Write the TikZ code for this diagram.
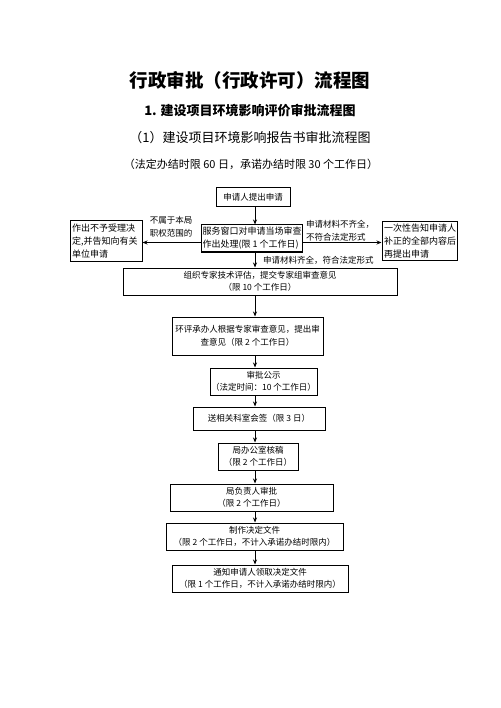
\documentclass[tikz,border=0pt]{standalone}
\usepackage{fontspec}
\setmainfont{Noto Sans CJK SC}
\usetikzlibrary{arrows.meta,positioning}

\tikzset{
  box/.style={draw, line width=1pt, align=center, inner sep=1pt,
    font=\fontsize{8.5}{12.5}\selectfont},
  sidebox/.style={draw, line width=1pt, align=left, inner sep=2pt,
    font=\fontsize{9}{13}\selectfont},
  arr/.style={-{Stealth[length=5pt,width=4pt]}, line width=0.8pt},
  note/.style={align=left, inner sep=0pt, font=\fontsize{8.5}{13.5}\selectfont},
}

\begin{document}
\begin{tikzpicture}[x=1pt,y=-1pt]
    \useasboundingbox (0,0) rectangle (500,708);

    % Headings
    \node[font=\fontsize{18.5}{20}\selectfont\bfseries] (title) at (250,80) {行政审批（行政许可）流程图};
    \node[font=\fontsize{13}{15}\selectfont\bfseries] (sub) at (250,111) {1. 建设项目环境影响评价审批流程图};
    \node[font=\fontsize{13}{15}\selectfont] (subsub) at (250,138) {（1）建设项目环境影响报告书审批流程图};
    \node[font=\fontsize{11}{13}\selectfont] (limit) at (251,164) {（法定办结时限 60 日，承诺办结时限 30 个工作日）};

    % Main column
    \node[box, minimum width=74pt, minimum height=19pt] (apply) at (253,197.5) {申请人提出申请};
    \node[box, sidebox, minimum width=100pt, minimum height=27pt, inner sep=1pt] (window) at (252,238.5)
        {服务窗口对申请当场审查\\作出处理(限 1 个工作日)};
    \node[box, minimum width=274pt, minimum height=27pt] (expert) at (260,281.5)
        {组织专家技术评估，提交专家组审查意见\\（限 10 个工作日）};
    \node[box, minimum width=151pt, minimum height=38pt, inner sep=0.5pt] (opinion) at (247.5,336)
        {环评承办人根据专家审查意见，提出审\\查意见（限 2 个工作日）};
    \node[box, minimum width=107pt, minimum height=27pt] (notice) at (263.5,381.5)
        {审批公示\\（法定时间：10 个工作日）};
    \node[box, minimum width=132pt, minimum height=23pt] (countersign) at (259,418.5)
        {送相关科室会签（限 3 日）};
    \node[box, minimum width=80pt, minimum height=27pt] (review) at (258,456.5)
        {局办公室核稿\\（限 2 个工作日）};
    \node[box, minimum width=163pt, minimum height=27pt] (leader) at (251.5,497.5)
        {局负责人审批\\（限 2 个工作日）};
    \node[box, minimum width=177pt, minimum height=27pt] (decision) at (254.5,536.5)
        {制作决定文件\\（限 2 个工作日，不计入承诺办结时限内）};
    \node[box, minimum width=176pt, minimum height=27pt] (notify) at (260,578.5)
        {通知申请人领取决定文件\\（限 1 个工作日，不计入承诺办结时限内）};

    % Side boxes
    \node[sidebox, text width=68pt, minimum height=41pt] (reject) at (106,241)
        {作出不予受理决\\定,并告知向有关\\单位申请};
    \node[sidebox, text width=71pt, minimum height=38pt] (supplement) at (419.5,241)
        {一次性告知申请人\\补正的全部内容后\\再提出申请};

    % Arrows down the column
    \coordinate (spine) at (255,0);
    \foreach \a/\b in {apply/window, window/expert, expert/opinion, opinion/notice,
        notice/countersign, countersign/review, review/leader, leader/decision, decision/notify}
        \draw[arr] (\a.south -| spine) -- (\b.north -| spine);

    % Side arrows, a little below the box centre
    \coordinate (winL) at ([yshift=-4pt]window.west);
    \coordinate (winR) at ([yshift=-4pt]window.east);
    \draw[arr] (winL) -- (reject.east |- winL);
    \draw[arr] (winR) -- (supplement.west |- winR);

    % Labels
    \node[note, align=center] (outscope) at (171,227) {不属于本局\\职权范围的};
    \node[note, anchor=west] (lacking) at (306,230.5) {申请材料不齐全，\\不符合法定形式};
    \node[note, anchor=west] (complete) at (263,260) {申请材料齐全，符合法定形式};
\end{tikzpicture}
\end{document}
